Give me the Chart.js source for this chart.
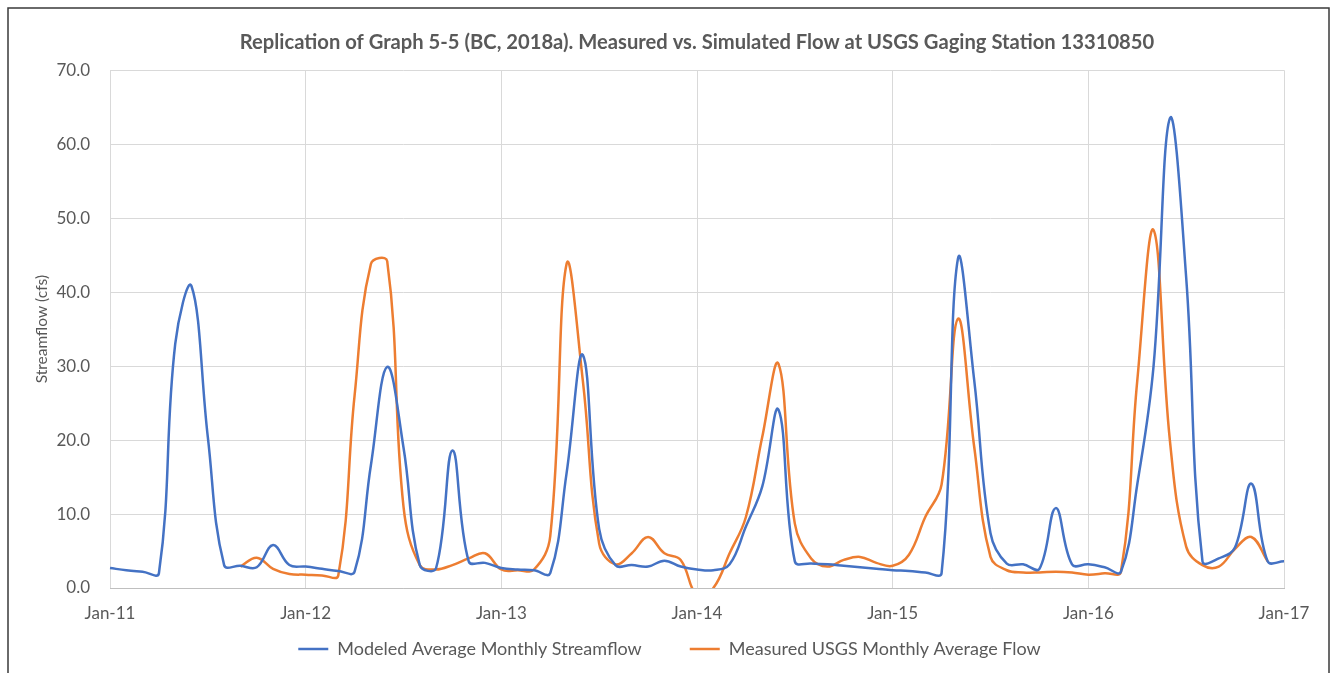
<!DOCTYPE html>
<html>
<head>
<meta charset="utf-8">
<title>Measured vs. Simulated Flow</title>
<script src="https://cdn.jsdelivr.net/npm/chart.js@4.4.1/dist/chart.umd.min.js"></script>
<style>
  html, body { margin: 0; padding: 0; background: #ffffff; }
  canvas { display: block; }
</style>
</head>
<body>
<canvas id="flowChart" width="1332" height="673"></canvas>
<script>
// monthly values, Jan-11 .. Jan-17
const yearLabels = ['11', '12', '13', '14', '15', '16', '17'];
const monthNames = ['Jan', 'Feb', 'Mar', 'Apr', 'May', 'Jun', 'Jul', 'Aug', 'Sep', 'Oct', 'Nov', 'Dec'];
const yTicks = [0, 10, 20, 30, 40, 50, 60, 70];

const modeledFlow = [
  2.7, 2.4, 2.2, 2.0, 33.0, 40.8, 20.4, 3.1, 3.0, 2.8, 5.8, 3.1,
  2.9, 2.6, 2.3, 2.2, 16.6, 29.9, 19.0, 3.1, 2.7, 18.6, 3.6, 3.4,
  2.7, 2.5, 2.4, 2.0, 15.5, 31.5, 8.0, 3.1, 3.1, 2.9, 3.7, 2.9,
  2.5, 2.4, 3.2, 8.3, 13.7, 24.1, 3.6, 3.3, 3.2, 3.0, 2.8, 2.6,
  2.4, 2.3, 2.1, 2.0, 44.5, 28.1, 7.4, 3.3, 3.2, 2.6, 10.8, 3.2,
  3.2, 2.8, 2.2, 14.0, 30.0, 63.5, 42.0, 3.6, 4.0, 5.5, 14.1, 3.6,
  3.6
];

const measuredFlow = [
  null, null, null, null, null, null, null, null, 2.9, 4.1, 2.6, 1.9,
  1.8, 1.7, 1.7, 26.0, 43.8, 44.2, 11.0, 3.1, 2.5, 3.1, 4.0, 4.7,
  2.5, 2.4, 2.5, 7.0, 43.8, 28.0, 6.0, 3.2, 4.7, 6.9, 4.7, 3.8,
  -1.0, 0.0, 4.7, 9.6, 20.4, 30.3, 8.7, 4.0, 2.9, 3.8, 4.2, 3.4,
  3.0, 4.5, 9.6, 14.0, 36.4, 19.1, 4.2, 2.4, 2.1, 2.1, 2.2, 2.1,
  1.8, 2.0, 2.2, 28.0, 48.4, 20.0, 5.6, 3.1, 2.9, 5.3, 6.9, 3.6
];

const months = [];
yearLabels.forEach(function(yr, y) {
  monthNames.forEach(function(m) {
    if (y < yearLabels.length - 1 || m === 'Jan') months.push(m + '-' + yr);
  });
});

const textColor = '#595959';
const gridColor = '#d9d9d9';
const baseFont = 'Lato, "Open Sans", "Liberation Sans", sans-serif';

// white background and the outer frame of the original figure
const frame = {
  id: 'frame',
  beforeDraw(chart) {
    const ctx = chart.ctx;
    ctx.save();
    ctx.fillStyle = '#ffffff';
    ctx.fillRect(0, 0, chart.width, chart.height);
    ctx.strokeStyle = '#3a3a3a';
    ctx.lineWidth = 1.5;
    ctx.strokeRect(8, 8, 1321, 700);
    ctx.restore();
  }
};

// the legend keeps a wide gap between its two entries; pull its row back up
const legendLift = {
  id: 'legendLift',
  afterLayout(chart) {
    if (chart.legend) chart.legend.top -= 41;
  }
};

new Chart(document.getElementById('flowChart'), {
  type: 'line',
  data: {
    labels: months,
    datasets: [
      {
        label: 'Modeled Average Monthly Streamflow',
        data: modeledFlow,
        borderColor: '#4472c4',
        backgroundColor: '#4472c4',
        borderWidth: 2.5,
        pointRadius: 0,
        tension: 0.4
      },
      {
        label: 'Measured USGS Monthly Average Flow',
        data: measuredFlow,
        borderColor: '#ed7d31',
        backgroundColor: '#ed7d31',
        borderWidth: 2.5,
        pointRadius: 0,
        tension: 0.4
      }
    ]
  },
  options: {
    responsive: false,
    animation: false,
    layout: { padding: { left: 55, right: 48, top: 0, bottom: 0 } },
    plugins: {
      title: {
        display: true,
        fullSize: false,
        text: 'Replication of Graph 5-5 (BC, 2018a). Measured vs. Simulated Flow at USGS Gaging Station 13310850',
        color: textColor,
        font: { family: baseFont, size: 20.2, weight: 'bold' },
        padding: { top: 30, bottom: 16 }
      },
      legend: {
        position: 'bottom',
        maxHeight: 40,
        labels: {
          color: textColor,
          font: { family: baseFont, size: 18 },
          usePointStyle: true,
          pointStyle: 'line',
          pointStyleWidth: 30,
          padding: 48
        }
      },
      tooltip: { enabled: false }
    },
    scales: {
      x: {
        afterFit: function(scale) { scale.height = 45; },
        grid: {
          drawTicks: false,
          color: function(c) { return c.index % 12 === 0 ? gridColor : 'rgba(0,0,0,0)'; }
        },
        border: { color: '#bfbfbf' },
        ticks: {
          autoSkip: false,
          maxRotation: 0,
          color: textColor,
          font: { family: baseFont, size: 17 },
          padding: 15,
          callback: function(v, i) { return i % 12 === 0 ? months[i] : ''; }
        }
      },
      y: {
        min: yTicks[0],
        max: yTicks[yTicks.length - 1],
        afterFit: function(scale) { scale.width = 55; },
        afterBuildTicks: function(scale) { scale.ticks = yTicks.map(function(v) { return { value: v }; }); },
        grid: { drawTicks: false, color: gridColor },
        border: { display: false },
        ticks: {
          color: textColor,
          font: { family: baseFont, size: 17 },
          padding: 20,
          callback: function(v) { return v.toFixed(1); }
        },
        title: {
          display: true,
          text: 'Streamflow (cfs)',
          color: textColor,
          font: { family: baseFont, size: 15.5 },
          padding: { top: -22.3, bottom: 0 }
        }
      }
    }
  },
  plugins: [frame, legendLift]
});
</script>
</body>
</html>
